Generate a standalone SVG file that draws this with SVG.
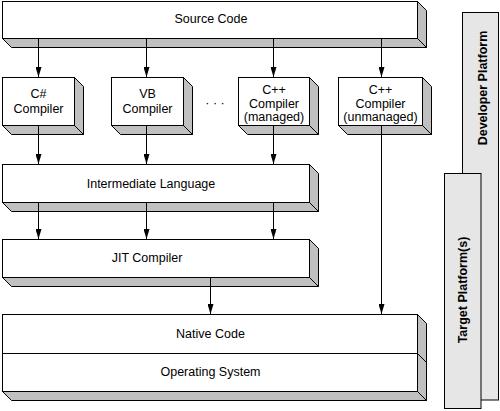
<svg xmlns="http://www.w3.org/2000/svg" width="500" height="411" viewBox="0 0 500 411">
<style>
.front{fill:#fff;stroke:#000;stroke-width:1}
.shade{fill:#c0c0c0;stroke:#000;stroke-width:1;stroke-linejoin:round}
.plat{fill:#e6e6e6;stroke:#000;stroke-width:1}
.t{font-family:"Liberation Sans",Arial,sans-serif;font-size:12.5px;fill:#000;text-anchor:middle}
.tb{font-family:"Liberation Sans",Arial,sans-serif;font-size:12.5px;font-weight:bold;fill:#000;text-anchor:middle}
.c{stroke:#000;stroke-width:1;fill:none;marker-end:url(#ah)}
</style>
<defs>
<marker id="ah" markerUnits="userSpaceOnUse" markerWidth="10" markerHeight="6" viewBox="0 0 10 6" refX="10" refY="3" orient="auto">
<path d="M0,0 L10,3 L0,6 z" fill="#000"/>
</marker>
</defs>
<rect width="500" height="411" fill="#fff"/>

<g id="developer-platform">
<rect class="plat" x="462.5" y="12.5" width="36" height="387.5"/>
<text class="tb" transform="translate(487,88) rotate(-90)">Developer Platform</text>
</g>
<g id="target-platform">
<rect class="plat" x="444.5" y="173.5" width="36.5" height="235"/>
<text class="tb" transform="translate(466.5,290) rotate(-90)">Target Platform(s)</text>
</g>

<g id="source-code">
<polygon class="shade" points="2.5,38.5 11.5,47.5 426.5,47.5 417.5,38.5"/>
<polygon class="shade" points="417.5,1.5 426.5,10.5 426.5,47.5 417.5,38.5"/>
<rect class="front" x="2.5" y="1.5" width="415" height="37"/>
<text class="t" x="211" y="23">Source Code</text>
</g>

<g id="cs-compiler">
<polygon class="shade" points="2.5,125.5 11.5,134.5 83.5,134.5 74.5,125.5"/>
<polygon class="shade" points="74.5,77.5 83.5,86.5 83.5,134.5 74.5,125.5"/>
<rect class="front" x="2.5" y="77.5" width="72" height="48"/>
<text class="t" x="38.5" y="97.5">C#</text>
<text class="t" x="38.5" y="113">Compiler</text>
</g>

<g id="vb-compiler">
<polygon class="shade" points="111.5,125.5 120.5,134.5 192.5,134.5 183.5,125.5"/>
<polygon class="shade" points="183.5,77.5 192.5,86.5 192.5,134.5 183.5,125.5"/>
<rect class="front" x="111.5" y="77.5" width="72" height="48"/>
<text class="t" x="147.5" y="97.5">VB</text>
<text class="t" x="147.5" y="113">Compiler</text>
</g>

<g id="ellipsis">
<text class="t" x="215" y="107">· · ·</text>
</g>

<g id="cpp-managed">
<polygon class="shade" points="238.5,125.5 247.5,134.5 318.5,134.5 309.5,125.5"/>
<polygon class="shade" points="309.5,77.5 318.5,86.5 318.5,134.5 309.5,125.5"/>
<rect class="front" x="238.5" y="77.5" width="71" height="48"/>
<text class="t" x="274" y="94">C++</text>
<text class="t" x="274" y="107.5">Compiler</text>
<text class="t" x="274" y="121">(managed)</text>
</g>

<g id="cpp-unmanaged">
<polygon class="shade" points="338.5,125.5 347.5,134.5 431.5,134.5 422.5,125.5"/>
<polygon class="shade" points="422.5,77.5 431.5,86.5 431.5,134.5 422.5,125.5"/>
<rect class="front" x="338.5" y="77.5" width="84" height="48"/>
<text class="t" x="380.5" y="94">C++</text>
<text class="t" x="380.5" y="107.5">Compiler</text>
<text class="t" x="380.5" y="121">(unmanaged)</text>
</g>

<g id="intermediate-language">
<polygon class="shade" points="2.5,202.5 11.5,211.5 318.5,211.5 309.5,202.5"/>
<polygon class="shade" points="309.5,164.5 318.5,173.5 318.5,211.5 309.5,202.5"/>
<rect class="front" x="2.5" y="164.5" width="307" height="38"/>
<text class="t" x="151" y="187.5">Intermediate Language</text>
</g>

<g id="jit-compiler">
<polygon class="shade" points="2.5,277.5 11.5,286.5 318.5,286.5 309.5,277.5"/>
<polygon class="shade" points="309.5,239.5 318.5,248.5 318.5,286.5 309.5,277.5"/>
<rect class="front" x="2.5" y="239.5" width="307" height="38"/>
<text class="t" x="147" y="261.5">JIT Compiler</text>
</g>

<g id="native-os">
<polygon class="shade" points="2.5,391.5 11.5,400.5 426.5,400.5 417.5,391.5"/>
<polygon class="shade" points="417.5,314.5 426.5,323.5 426.5,400.5 417.5,391.5"/>
<line x1="417.5" y1="353.5" x2="426.5" y2="362.5" stroke="#000" stroke-width="1"/>
<rect class="front" x="2.5" y="314.5" width="415" height="77"/>
<line x1="2.5" y1="353.5" x2="417.5" y2="353.5" stroke="#000" stroke-width="1"/>
<text class="t" x="210.5" y="337.5">Native Code</text>
<text class="t" x="210.5" y="375.5">Operating System</text>
</g>

<g id="connectors">
<line class="c" x1="38.5" y1="38.5" x2="38.5" y2="77"/>
<line class="c" x1="146.5" y1="38.5" x2="146.5" y2="77"/>
<line class="c" x1="273.5" y1="38.5" x2="273.5" y2="77"/>
<line class="c" x1="381.5" y1="38.5" x2="381.5" y2="77"/>
<line class="c" x1="38.5" y1="125.5" x2="38.5" y2="164"/>
<line class="c" x1="146.5" y1="125.5" x2="146.5" y2="164"/>
<line class="c" x1="273.5" y1="125.5" x2="273.5" y2="164"/>
<line class="c" x1="38.5" y1="202.5" x2="38.5" y2="239"/>
<line class="c" x1="146.5" y1="202.5" x2="146.5" y2="239"/>
<line class="c" x1="273.5" y1="202.5" x2="273.5" y2="239"/>
<line class="c" x1="210.5" y1="277.5" x2="210.5" y2="314"/>
<line class="c" x1="381.5" y1="125.5" x2="381.5" y2="314"/>
</g>
</svg>
